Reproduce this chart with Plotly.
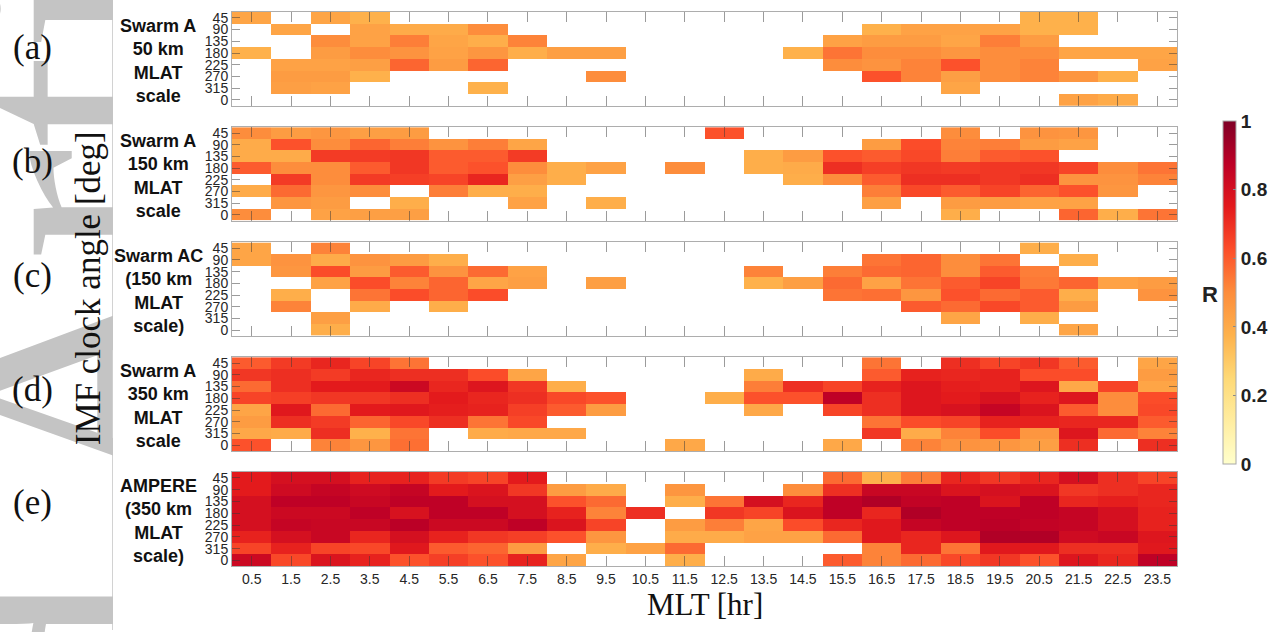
import plotly.graph_objects as go
import plotly.express as px

W, H = 1284, 632
N = None

# MLT bin centres [hr] and IMF clock-angle bins (top to bottom)
mlt = [0.5 + i for i in range(24)]
mlt_labels = [f"{v:.1f}" for v in mlt]
clock_labels = ["45", "90", "135", "180", "225", "270", "315", "0"]

# Correlation R per (clock angle, MLT) bin; None = no significant value
swarm_a_50km = [
    [.42, N, .42, .38, N, N, N, N, N, N, N, N, N, N, N, N, N, N, N, N, .38, .38, N, N],
    [N, .42, N, .43, .40, .40, .50, N, N, N, N, N, N, N, N, N, .38, .43, .43, .43, .38, .38, N, N],
    [N, N, .50, .43, .53, .42, .39, .52, N, N, N, N, N, N, N, .43, .45, .45, .42, .53, .45, N, N, N],
    [.38, N, .45, .50, .48, .43, .47, .39, .44, .44, N, N, N, N, .38, .55, .50, .50, .47, .50, .50, .42, .42, .42],
    [N, .43, .43, .44, .58, .45, .58, N, N, N, N, N, N, N, N, .50, .48, .52, .62, .50, .52, N, N, .43],
    [N, .45, .45, .38, N, N, N, N, N, .50, N, N, N, N, N, N, .62, .52, .44, .50, .52, .47, .38, N],
    [N, .44, .43, N, N, N, .38, N, N, N, N, N, N, N, N, N, N, N, .42, N, N, N, N, N],
    [N, N, N, N, N, N, N, N, N, N, N, N, N, N, N, N, N, N, N, N, N, .43, .40, N],
]

swarm_a_150km = [
    [.50, .45, .47, .44, .45, N, N, N, N, N, N, N, .62, N, N, N, N, N, .50, N, .48, .47, N, N],
    [.40, .62, .50, .58, .53, .48, .53, .42, N, N, N, N, N, N, N, N, .45, .63, .52, .53, .45, .43, N, N],
    [.40, .40, .67, .67, .68, .60, .60, .67, N, N, N, N, N, .39, .45, .62, .60, .64, .53, .60, .62, N, N, N],
    [.60, .50, .50, .60, .68, .60, .62, .50, .39, .43, N, .50, N, .39, .40, .70, .66, .68, .67, .68, .68, .65, .50, .55],
    [N, .67, .50, .67, .66, .65, .72, .44, .39, N, N, N, N, N, .39, .50, .60, .70, .70, .68, .70, .48, .48, .52],
    [.40, .57, .47, .50, N, .53, .39, .39, N, N, N, N, N, N, N, N, .53, .64, .60, .65, .58, .62, .47, N],
    [N, .47, .45, N, .39, N, N, .43, N, .39, N, N, N, N, N, N, .44, N, .45, .45, .43, .43, N, N],
    [.50, N, .43, .44, .44, N, N, N, N, N, N, N, N, N, N, N, N, N, .39, N, N, .58, .39, .55],
]

swarm_ac_150km = [
    [.42, N, .52, N, N, N, N, N, N, N, N, N, N, N, N, N, N, N, N, N, .39, N, N, N],
    [.42, .48, .40, .48, .45, .39, N, N, N, N, N, N, N, N, N, N, .55, .58, .50, .55, N, .39, N, N],
    [N, .47, .63, .45, .60, .48, .57, .43, N, N, N, N, N, .52, N, .53, .57, .58, .50, .60, .53, N, N, N],
    [N, N, .43, .63, .52, .58, .42, .44, N, .44, N, N, N, .38, .44, .57, .43, .55, .60, .65, .54, .58, .43, .45],
    [N, .39, N, .55, .63, .58, .63, N, N, N, N, N, N, N, N, .55, .56, .47, .62, .57, .60, .39, N, .48],
    [N, .52, N, .40, N, .39, N, N, N, N, N, N, N, N, N, N, N, .60, .57, .64, .60, .45, N, N],
    [N, N, .44, N, N, N, N, N, N, N, N, N, N, N, N, N, N, N, .42, N, .39, N, N, N],
    [N, N, .39, N, N, N, N, N, N, N, N, N, N, N, N, N, N, N, N, N, N, .42, N, N],
]

swarm_a_350km = [
    [.60, .67, .72, .65, .55, N, N, N, N, N, N, N, N, N, N, N, .55, N, .70, .65, .68, .60, N, .42],
    [.68, .70, .67, .72, .70, .70, .63, .42, N, N, N, N, N, .40, N, N, .60, .73, .72, .73, .63, .63, N, .45],
    [.57, .70, .75, .75, .83, .72, .77, .68, .39, N, N, N, N, .53, .70, .65, .73, .77, .74, .73, .77, .41, .65, .42],
    [.65, .66, .68, .68, .70, .75, .72, .70, .64, .62, N, N, .39, .62, .62, .87, .70, .77, .75, .79, .73, .77, .50, .63],
    [.42, .76, .57, .75, .76, .74, .73, .66, .60, .45, N, N, N, .41, N, .65, .70, .77, .79, .85, .78, .60, .50, .64],
    [.45, .70, .67, .58, .64, .70, .55, .64, N, N, N, N, N, N, N, N, .55, .63, .65, .73, .73, .72, .72, .60],
    [.41, .40, .70, .38, .55, N, .40, .41, .41, N, N, N, N, N, N, N, .68, .40, .52, .63, .47, .77, .57, .52],
    [.62, N, .52, .47, .56, N, N, N, N, N, N, .41, N, N, N, .41, N, .52, .48, .47, .44, .70, N, .70],
]

ampere_350km = [
    [.75, .80, .80, .73, .73, .67, .65, .75, N, N, N, N, N, N, N, .57, .38, .53, .72, .68, .72, .80, .70, .65],
    [.75, .82, .85, .82, .85, .75, .78, .68, .45, .40, N, .47, N, N, .50, .70, .84, .84, .78, .80, .78, .68, .70, .72],
    [.80, .87, .87, .84, .87, .87, .80, .80, .62, .57, N, .39, .55, .80, .72, .87, .90, .86, .87, .78, .87, .72, .74, .72],
    [.80, .83, .83, .87, .79, .87, .87, .80, .73, .52, .70, N, .68, .65, .78, .87, .72, .90, .87, .87, .87, .85, .80, .73],
    [.80, .85, .84, .84, .88, .83, .83, .87, .78, .65, N, .45, .53, .42, .63, .72, .76, .85, .87, .88, .86, .85, .80, .73],
    [.73, .80, .84, .72, .80, .73, .68, .66, .62, .47, N, .40, .40, .43, .43, .57, .76, .72, .77, .90, .90, .82, .84, .77],
    [.65, .73, .65, .64, .76, .60, .58, .45, N, .39, .43, .57, N, N, N, N, .52, .72, .55, .76, .76, .70, .70, .76],
    [.83, .64, .78, .73, .62, .66, .62, .73, .42, N, N, .39, N, N, N, .60, .52, .57, .64, .68, .62, .77, .72, .87],
]

panels = [swarm_a_50km, swarm_a_150km, swarm_ac_150km, swarm_a_350km, ampere_350km]
panel_tags = ["(a)", "(b)", "(c)", "(d)", "(e)"]
panel_names = [
    "Swarm A<br>50 km<br>MLAT<br>scale",
    "Swarm A<br>150 km<br>MLAT<br>scale",
    "Swarm AC<br>(150 km<br>MLAT<br>scale)",
    "Swarm A<br>350 km<br>MLAT<br>scale",
    "AMPERE<br>(350 km<br>MLAT<br>scale)",
]
cbar_ticks = [0, 0.2, 0.4, 0.6, 0.8, 1]

# pixel layout of the five stacked panels (top, bottom)
panel_px = [(10, 104.5), (126, 220), (242, 336), (357.5, 452), (473, 568)]
x_px = (232, 1177)
tag_y = [46, 161, 275, 390, 504]

def px_x(v):
    return v / W

def px_y(v):
    return 1 - v / H

fig = go.Figure()
sans = "Liberation Sans, Arial, sans-serif"
serif = "Liberation Serif, Times New Roman, serif"
tick_rgba = "rgba(55,55,55,0.5)"
frame = "#adadad"

for i, z in enumerate(panels):
    k = "" if i == 0 else str(i + 1)
    fig.add_trace(go.Heatmap(
        x=mlt, y=list(range(len(clock_labels))), z=z,
        coloraxis="coloraxis", xaxis="x" + k, yaxis="y" + k,
        hoverongaps=False,
    ))
    top, bot = panel_px[i]
    fig.update_layout({
        "xaxis" + k: dict(
            domain=[px_x(x_px[0]), px_x(x_px[1])], anchor="y" + k,
            range=[0, 24], tickvals=mlt, ticktext=mlt_labels,
            showticklabels=(i == len(panels) - 1),
            ticks="inside", ticklen=10, tickcolor=tick_rgba, tickwidth=1,
            showline=True, linecolor=frame, linewidth=1, mirror="ticks",
            showgrid=False, zeroline=False,
            tickfont=dict(family=sans, size=14, color="#262626"),
        ),
        "yaxis" + k: dict(
            domain=[px_y(bot), px_y(top)], anchor="x" + k,
            range=[len(clock_labels) - 0.5, -0.5],
            tickvals=list(range(len(clock_labels))), ticktext=clock_labels,
            ticks="inside", ticklen=8, tickcolor=tick_rgba, tickwidth=1,
            showline=True, linecolor=frame, linewidth=1, mirror="ticks",
            showgrid=False, zeroline=False,
            tickfont=dict(family=sans, size=14, color="#262626"),
        ),
    })

annotations = []
# faint journal watermark running up the left margin (baseline near x=190 px)
wm_size = 340
annotations.append(dict(
    text="Accepted Article", textangle=-90, showarrow=False,
    xref="paper", yref="paper", x=px_x(190 - 0.3375 * wm_size), y=px_y(712),
    xanchor="center", yanchor="middle",
    font=dict(family=serif, size=wm_size, color="#c4c4c4"),
))
# the page strip right of the margin line stays white over the watermark
annotations.append(dict(
    text=" ", showarrow=False, xref="paper", yref="paper",
    x=px_x(113), y=0.5, xanchor="left", yanchor="middle",
    width=90, height=H + 4, bgcolor="white", borderpad=0, borderwidth=0,
))
for i in range(len(panels)):
    top, bot = panel_px[i]
    annotations.append(dict(
        text=panel_tags[i], showarrow=False, xref="paper", yref="paper",
        x=px_x(32), y=px_y(tag_y[i]), xanchor="center", yanchor="middle",
        font=dict(family=serif, size=35, color="#111111"),
    ))
    annotations.append(dict(
        text=panel_names[i], showarrow=False, xref="paper", yref="paper",
        x=px_x(158), y=px_y((top + bot) / 2 + 2), xanchor="center", yanchor="middle",
        align="center",
        font=dict(family=sans, size=18, color="#111111", weight="bold"),
    ))
annotations.append(dict(
    text="IMF clock angle [deg]", textangle=-90, showarrow=False,
    xref="paper", yref="paper", x=px_x(88), y=px_y(288),
    xanchor="center", yanchor="middle",
    font=dict(family=serif, size=35, color="#111111"),
))
annotations.append(dict(
    text="MLT [hr]", showarrow=False, xref="paper", yref="paper",
    x=px_x(705), y=px_y(606), xanchor="center", yanchor="middle",
    font=dict(family=serif, size=31, color="#111111"),
))
annotations.append(dict(
    text="R", showarrow=False, xref="paper", yref="paper",
    x=px_x(1210), y=px_y(294), xanchor="center", yanchor="middle",
    font=dict(family=sans, size=22, color="#222222", weight="bold"),
))

fig.update_layout(
    width=W, height=H,
    margin=dict(l=0, r=0, t=0, b=0),
    paper_bgcolor="white", plot_bgcolor="white",
    coloraxis=dict(
        colorscale=px.colors.sequential.YlOrRd, cmin=0, cmax=1,
        colorbar=dict(
            x=px_x(1222.5), xanchor="left", y=px_y(292.5), yanchor="middle",
            len=345 / H, lenmode="fraction", thickness=13, thicknessmode="pixels",
            outlinewidth=1, outlinecolor="#a8a8a8",
            tickvals=cbar_ticks, ticktext=[f"{v:g}" for v in cbar_ticks],
            ticks="inside", ticklen=3, tickcolor="#888888",
            tickfont=dict(family=sans, size=19, color="#222222", weight="bold"),
            xpad=0, ypad=0,
        ),
    ),
    annotations=annotations,
    shapes=[dict(type="line", xref="paper", yref="paper",
                 x0=px_x(112.5), x1=px_x(112.5), y0=0, y1=1,
                 line=dict(color="#d2d2d2", width=1))],
    showlegend=False,
)

fig.write_html("out.html")
